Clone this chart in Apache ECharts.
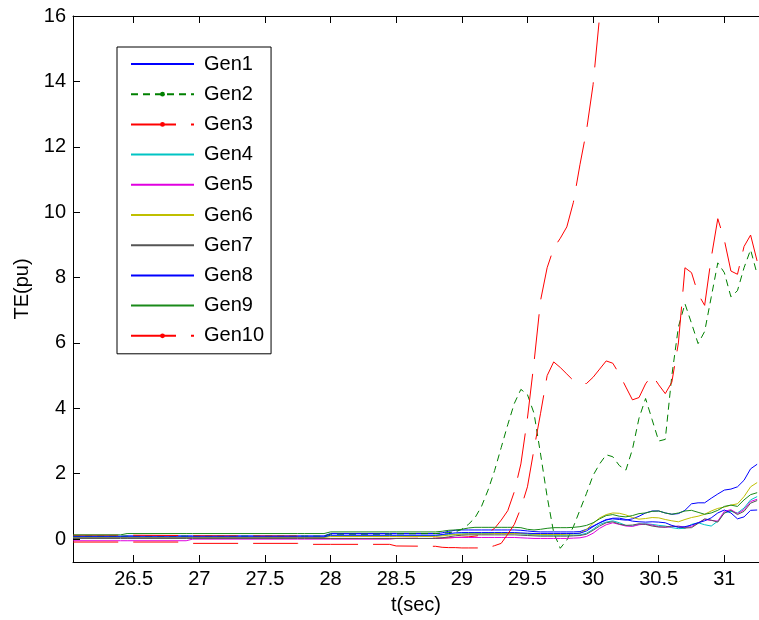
<!DOCTYPE html>
<html><head><meta charset="utf-8">
<script src="https://cdn.jsdelivr.net/npm/echarts@6/dist/echarts.min.js"></script>
<style>html,body{margin:0;padding:0;background:#fff}#c{width:759px;height:620px}</style>
</head><body><div id="c"></div>
<script>
const time = [26.04,26.4,26.45,26.9,26.95,27.75,27.8,27.95,28.0,28.45,28.5,28.8,
28.85,28.9,28.95,29.0,29.05,29.1,29.15,29.2,29.25,29.3,29.35,29.4,29.45,29.5,29.55,29.6,29.65,29.7,29.75,29.8,29.85,29.9,
29.95,30.0,30.05,30.1,30.15,30.2,30.25,30.3,30.35,30.4,30.45,30.5,30.55,30.6,30.65,30.7,30.75,30.8,30.85,30.9,30.95,31.0,31.05,31.1,31.15,31.2,31.25];

const gen1 = [0.09,0.09,0.1,0.1,0.1,0.1,0.1,0.1,0.17,0.17,0.17,0.17,
0.19,0.24,0.27,0.28,0.28,0.28,0.28,0.28,0.28,0.28,0.28,0.28,0.27,0.25,0.23,0.22,0.22,0.22,0.22,0.22,0.22,0.23,
0.3,0.4,0.5,0.6,0.62,0.6,0.58,0.62,0.7,0.8,0.86,0.86,0.8,0.76,0.78,0.88,1.08,1.11,1.11,1.25,1.38,1.5,1.53,1.6,1.8,2.15,2.29];

const gen2 = [0.09,0.09,0.09,0.09,0.09,0.09,0.09,0.09,0.15,0.15,0.16,0.17,
0.18,0.2,0.22,0.3,0.45,0.65,1.0,1.5,2.1,2.8,3.5,4.15,4.58,4.42,3.85,2.6,1.3,0.2,-0.28,-0.03,0.38,0.89,
1.4,1.95,2.3,2.58,2.52,2.25,2.11,2.75,3.7,4.3,3.65,3.0,3.05,5.0,6.49,7.2,6.6,5.98,6.35,7.4,8.45,8.15,7.41,7.6,8.3,8.85,8.1];

const gen3 = [0.12,0.12,0.12,0.11,0.1,0.09,0.03,0.02,0.02,0.02,0.02,0.03,
0.03,0.04,0.05,0.06,0.07,0.09,0.12,0.2,0.33,0.58,0.87,1.45,2.3,3.7,5.4,7.3,8.3,8.9,9.2,9.55,10.3,11.45,
12.5,13.9,16.0,18.2,null,null,null,null,null,null,null,null,null,null,null,null,null,null,null,null,null,null,null,null,null,null,null];

const gen4 = [0.06,0.06,0.06,0.06,0.06,0.06,0.06,0.06,0.1,0.1,0.1,0.1,
0.12,0.14,0.15,0.16,0.17,0.17,0.17,0.17,0.17,0.17,0.17,0.17,0.16,0.15,0.13,0.12,0.12,0.12,0.12,0.12,0.12,0.13,
0.18,0.3,0.45,0.52,0.56,0.5,0.42,0.4,0.45,0.47,0.45,0.42,0.4,0.35,0.32,0.33,0.45,0.5,0.44,0.4,0.55,0.8,0.85,0.8,0.95,1.2,1.3];

const gen5 = [-0.05,-0.05,-0.05,-0.05,0.0,0.0,0.0,0.0,0.0,0.0,0.02,0.02,
0.03,0.04,0.05,0.05,0.05,0.05,0.05,0.05,0.05,0.05,0.05,0.05,0.04,0.03,0.02,0.02,0.02,0.02,0.02,0.02,0.03,0.04,
0.08,0.18,0.33,0.44,0.5,0.45,0.4,0.39,0.44,0.46,0.43,0.38,0.36,0.38,0.4,0.36,0.38,0.5,0.6,0.57,0.55,0.85,0.9,0.78,0.9,1.15,1.22];

const gen6 = [0.05,0.05,0.05,0.05,0.05,0.05,0.05,0.05,0.08,0.08,0.08,0.08,
0.1,0.12,0.14,0.15,0.16,0.16,0.16,0.16,0.17,0.17,0.17,0.17,0.17,0.16,0.15,0.14,0.14,0.14,0.14,0.15,0.16,0.18,
0.3,0.48,0.65,0.75,0.8,0.79,0.74,0.66,0.61,0.63,0.66,0.65,0.6,0.56,0.53,0.6,0.66,0.7,0.76,0.86,0.94,0.98,1.04,1.08,1.3,1.6,1.73];

const gen7 = [0.02,0.02,0.02,0.02,0.02,0.02,0.02,0.02,0.02,0.02,0.02,0.02,
0.04,0.07,0.1,0.12,0.13,0.13,0.13,0.13,0.13,0.13,0.13,0.13,0.12,0.11,0.1,0.09,0.09,0.09,0.09,0.09,0.1,0.11,
0.15,0.27,0.4,0.5,0.53,0.46,0.42,0.43,0.47,0.45,0.4,0.37,0.37,0.4,0.38,0.34,0.35,0.48,0.62,0.58,0.52,0.8,0.88,0.75,0.85,1.1,1.18];

const gen8 = [0.07,0.07,0.07,0.07,0.07,0.07,0.07,0.07,0.12,0.12,0.12,0.12,
0.14,0.17,0.19,0.2,0.2,0.2,0.2,0.2,0.2,0.2,0.2,0.2,0.19,0.18,0.17,0.17,0.17,0.17,0.17,0.17,0.17,0.18,
0.25,0.38,0.5,0.58,0.64,0.64,0.6,0.55,0.53,0.52,0.53,0.52,0.5,0.42,0.36,0.38,0.43,0.5,0.56,0.65,0.8,0.89,0.8,0.62,0.68,0.88,0.89];

const gen9 = [0.13,0.13,0.17,0.17,0.17,0.17,0.17,0.17,0.22,0.22,0.22,0.22,
0.24,0.27,0.28,0.3,0.34,0.36,0.36,0.36,0.36,0.36,0.36,0.36,0.35,0.3,0.28,0.3,0.33,0.35,0.35,0.35,0.36,0.38,
0.42,0.5,0.62,0.72,0.75,0.7,0.68,0.72,0.78,0.8,0.85,0.86,0.8,0.76,0.8,0.86,0.88,0.82,0.76,0.8,0.88,1.0,1.04,1.0,1.2,1.36,1.42];

const gen10 = [-0.09,-0.09,-0.09,-0.09,-0.13,-0.13,-0.16,-0.16,-0.16,-0.16,-0.21,-0.22,
-0.25,-0.26,-0.26,-0.27,-0.27,-0.27,-0.27,-0.26,-0.2,-0.13,0.15,0.45,0.95,1.6,2.75,3.85,5.0,5.42,5.25,5.05,4.85,4.76,
4.76,4.95,5.2,5.45,5.38,5.05,4.65,4.26,4.33,4.75,5.02,4.72,4.45,4.8,6.0,8.3,8.15,7.5,7.15,8.6,9.8,9.15,8.2,8.1,8.95,9.3,8.5];

const xTicks = [26.5,27,27.5,28,28.5,29,29.5,30,30.5,31];
const yTicks = [0,2,4,6,8,10,12,14,16];
const names = ['Gen1','Gen2','Gen3','Gen4','Gen5','Gen6','Gen7','Gen8','Gen9','Gen10'];

const FONT = 'Arial, "Liberation Sans", sans-serif';
const dashRed = [45, 15];
const dashGreen = [7, 5];
const styles = [
  {v: gen1, c: '#0000ff', t: 'solid', s: false},
  {v: gen2, c: '#008000', t: dashGreen, s: true},
  {v: gen3, c: '#ff0000', t: dashRed, s: true},
  {v: gen4, c: '#00c4c4', t: 'solid', s: false},
  {v: gen5, c: '#e000e0', t: 'solid', s: false},
  {v: gen6, c: '#bfbf00', t: 'solid', s: false},
  {v: gen7, c: '#555555', t: 'solid', s: false},
  {v: gen8, c: '#0000ff', t: 'solid', s: false},
  {v: gen9, c: '#1a8a1a', t: 'solid', s: false},
  {v: gen10, c: '#ff0000', t: dashRed, s: true}
];

const series = styles.map((st, k) => ({
  name: names[k],
  type: 'line',
  xAxisIndex: 0, yAxisIndex: 0,
  data: time.map((t, i) => [t, st.v[i]]),
  symbol: st.s ? 'circle' : 'none',
  showSymbol: false,
  connectNulls: false,
  clip: true,
  lineStyle: {color: st.c, width: 1, type: st.t},
  itemStyle: {color: st.c},
  emphasis: {disabled: true},
  animation: false
}));

const legendData = styles.map((st, k) => st.s
  ? {name: names[k]}
  : {name: names[k], itemStyle: {opacity: 0}});

const chart = echarts.init(document.getElementById('c'), null, {renderer: 'canvas'});
chart.setOption({
  backgroundColor: '#fff',
  animation: false,
  grid: {left: 73, top: 16, width: 687, height: 546, containLabel: false},
  xAxis: [{
    type: 'value', min: 26.038, max: 31.264, position: 'bottom',
    name: 't(sec)', nameLocation: 'middle', nameGap: 33,
    nameTextStyle: {fontFamily: FONT, fontSize: 20, color: '#000'},
    axisLine: {onZero: false, lineStyle: {color: '#000', width: 1}},
    axisTick: {inside: true, length: 7, customValues: xTicks, lineStyle: {color: '#000'}},
    axisLabel: {customValues: xTicks, margin: 7, fontFamily: FONT, fontSize: 20, color: '#000',
      formatter: v => String(v)},
    splitLine: {show: false}
  }, {
    type: 'value', min: 26.038, max: 31.264, position: 'top',
    axisLine: {onZero: false, lineStyle: {color: '#000', width: 1}},
    axisTick: {inside: true, length: 7, customValues: xTicks, lineStyle: {color: '#000'}},
    axisLabel: {show: false},
    splitLine: {show: false}
  }],
  yAxis: [{
    type: 'value', min: -0.7, max: 16, position: 'left',
    name: 'TE(pu)', nameLocation: 'middle', nameGap: 41, nameRotate: 90,
    nameTextStyle: {fontFamily: FONT, fontSize: 20, color: '#000'},
    axisLine: {onZero: false, lineStyle: {color: '#000', width: 1}},
    axisTick: {inside: true, length: 7, customValues: yTicks, lineStyle: {color: '#000'}},
    axisLabel: {customValues: yTicks, margin: 7, fontFamily: FONT, fontSize: 20, color: '#000'},
    splitLine: {show: false}
  }],
  legend: {
    orient: 'vertical', left: 117, top: 47,
    padding: [7, 7, 8, 13],
    itemWidth: 63, itemHeight: 6, itemGap: 10.2,
    borderColor: '#000', borderWidth: 1, backgroundColor: '#fff',
    selectedMode: false,
    textStyle: {fontFamily: FONT, fontSize: 20, color: '#000', lineHeight: 20, padding: [0, 0, 0, 5]},
    data: legendData
  },
  series: series
});
</script>
</body></html>
